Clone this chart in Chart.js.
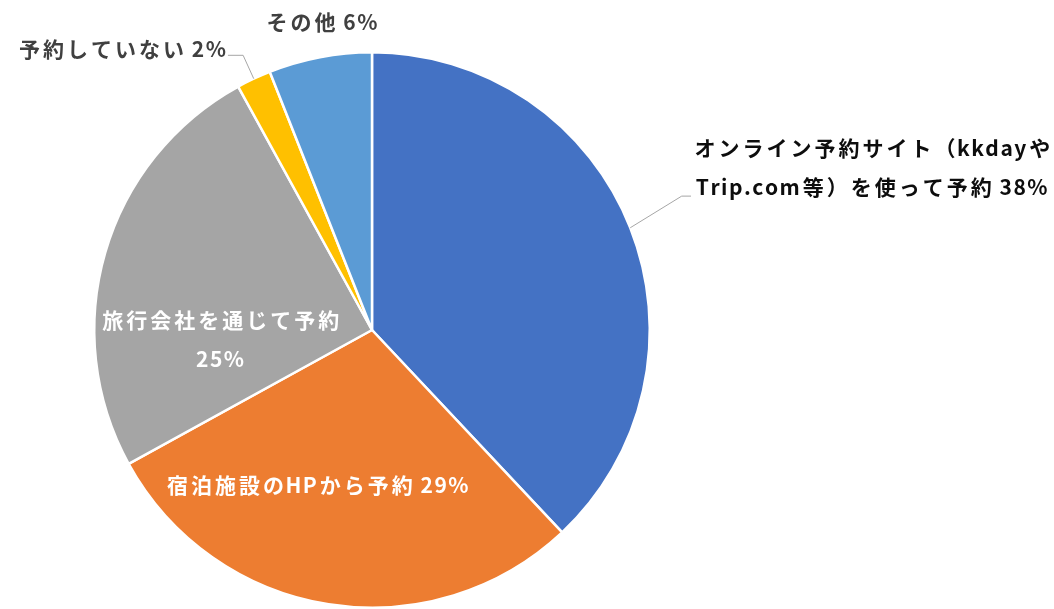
<!DOCTYPE html>
<html lang="ja">
<head>
<meta charset="utf-8">
<script src="https://cdn.jsdelivr.net/npm/chart.js@4"></script>
<style>
  html, body { margin: 0; padding: 0; background: #fff; }
  #wrap { width: 1054px; height: 609px; }
</style>
</head>
<body>
<div id="wrap"><canvas id="pie" width="1054" height="609"></canvas></div>
<script>
// 予約方法の内訳（%）
const categories = [
  'オンライン予約サイト（kkdayやTrip.com等）を使って予約',
  '宿泊施設のHPから予約',
  '旅行会社を通じて予約',
  '予約していない',
  'その他'
];
const shares = [38, 29, 25, 2, 6];
const sliceColors = ['#4472C4', '#ED7D31', '#A5A5A5', '#FFC000', '#5B9BD5'];

// ラベル配置（中心からの位置、半径比）
const labelLayout = [
  { dx: 1.799, dy: -0.655, color: '#0d0d0d', breakAt: categories[0].indexOf('や') + 1,
    leader: { ex: 1.115, ey: -0.482 } },
  { dx: -0.198, dy: 0.558, color: '#ffffff' },
  { dx: -0.547, dy: -0.036, color: '#ffffff', breakAt: categories[2].length },
  { dx: -0.901, dy: -1.011, color: '#404040', leader: { ex: -0.464, ey: -0.989 } },
  { dx: -0.183, dy: -1.108, color: '#404040' }
];

const LINE_GAP = 39;
const CJK_GAP = 3;
const LATIN_GAP = 1.5;
const isWide = ch => /[\u3000-\u30ff\u4e00-\u9fff\uff00-\uffef]/.test(ch);
const gapOf = ch => (isWide(ch) ? CJK_GAP : LATIN_GAP);

// 文字ごとに字間を足して描く
function spacedWidth(ctx, s) {
  let w = 0;
  for (const ch of s) w += ctx.measureText(ch).width + gapOf(ch);
  return w - LATIN_GAP;
}
function drawSpaced(ctx, s, cx, y) {
  let x = cx - spacedWidth(ctx, s) / 2;
  for (const ch of s) {
    ctx.fillText(ch, x + (isWide(ch) ? CJK_GAP / 2 : 0), y);
    x += ctx.measureText(ch).width + gapOf(ch);
  }
}

const pieLabels = {
  id: 'pieLabels',
  afterDatasetsDraw(chart) {
    const ctx = chart.ctx;
    const meta = chart.getDatasetMeta(0);
    ctx.save();
    ctx.font = 'bold 21px "Noto Sans CJK JP"';
    ctx.textAlign = 'left';
    ctx.textBaseline = 'middle';

    meta.data.forEach((arc, i) => {
      const lay = labelLayout[i];
      const r = arc.outerRadius;
      const text = categories[i] + ' ' + shares[i] + '%';
      const lines = lay.breakAt ? [text.slice(0, lay.breakAt), text.slice(lay.breakAt).trim()] : [text];
      const lx = arc.x + lay.dx * r;
      const ly = arc.y + lay.dy * r;

      // 引き出し線
      if (lay.leader) {
        const mid = (arc.startAngle + arc.endAngle) / 2;
        const px = arc.x + Math.cos(mid) * r;
        const py = arc.y + Math.sin(mid) * r;
        const qx = arc.x + lay.leader.ex * r;
        const qy = arc.y + lay.leader.ey * r;
        const w = Math.max(...lines.map(s => spacedWidth(ctx, s)));
        const side = lay.dx > 0 ? -1 : 1;
        const endX = lx + side * (w / 2 + 2);
        ctx.beginPath();
        ctx.moveTo(px, py);
        ctx.lineTo(qx, qy);
        ctx.lineTo(endX, qy);
        ctx.strokeStyle = '#a6a6a6';
        ctx.lineWidth = 1;
        ctx.stroke();
      }

      ctx.fillStyle = lay.color;
      lines.forEach((s, k) => drawSpaced(ctx, s, lx, ly + k * LINE_GAP));
    });
    ctx.restore();
  }
};

new Chart(document.getElementById('pie'), {
  type: 'pie',
  data: {
    labels: categories,
    datasets: [{
      data: shares,
      backgroundColor: sliceColors,
      borderColor: '#ffffff',
      borderWidth: 2.5
    }]
  },
  options: {
    responsive: false,
    animation: false,
    layout: { padding: { left: 93, right: 403, top: 51, bottom: 0 } },
    plugins: {
      legend: { display: false },
      tooltip: { enabled: false }
    }
  },
  plugins: [pieLabels]
});
</script>
</body>
</html>
